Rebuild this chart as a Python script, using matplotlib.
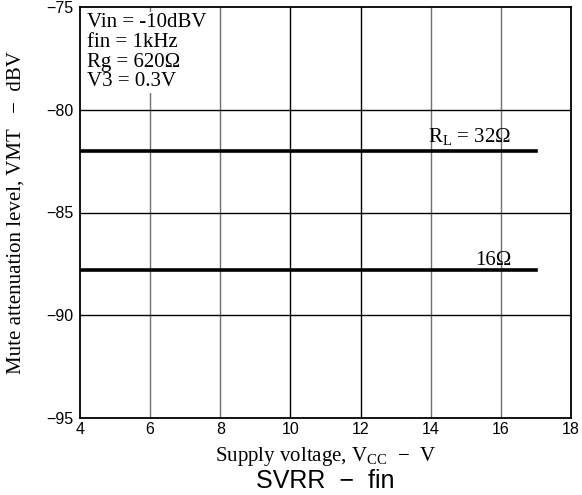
import numpy as np
import matplotlib.pyplot as plt

# supply voltage range and mute level for each load
vcc = [4, 17]
vmt_32 = [-82.0, -82.0]
vmt_16 = [-87.8, -87.8]
x_ticks = [4, 6, 8, 10, 12, 14, 16, 18]
y_ticks = [-95, -90, -85, -80, -75]

serif = 'Liberation Serif'
sans = 'Liberation Sans'

fig = plt.figure(figsize=(5.82, 4.95), dpi=100)
ax = fig.add_axes([80 / 582, 1 - 418 / 495, 491 / 582, 411 / 495])

ax.set_xlim(4, 18)
ax.set_ylim(-95, -75)
ax.set_xticks(x_ticks)
ax.set_yticks(y_ticks)
ax.set_yticklabels(['\u221295', '\u221290', '\u221285', '\u221280', '\u221275'])
ax.tick_params(length=0, labelsize=11.5)
ax.tick_params(axis='y', pad=5)
ax.tick_params(axis='x', pad=3)
for lab in ax.get_xticklabels() + ax.get_yticklabels():
    lab.set_family(sans)

# grid: some lines black, some gray as in the original
for xv in [6, 8, 14, 16]:
    ax.axvline(xv, color='#707070', lw=1.0, zorder=1)
for xv in [10, 12]:
    ax.axvline(xv, color='black', lw=1.0, zorder=1)
for yv in [-90, -85, -80]:
    ax.axhline(yv, color='black', lw=1.0, zorder=1)

for s in ax.spines.values():
    s.set_linewidth(1.3)

ax.plot(vcc, vmt_32, color='black', lw=2.6, zorder=3)
ax.plot(vcc, vmt_16, color='black', lw=2.6, zorder=3)

ax.text(16.3, -81.6, 'R$_\\mathregular{L}$ = 32\u03a9', ha='right', va='baseline',
        fontsize=15, family=serif)
ax.text(16.3, -87.55, '16\u03a9', ha='right', va='baseline',
        fontsize=15, family=serif)

ax.text(4.2, -75.3, 'Vin = -10dBV\nfin = 1kHz\nRg = 620\u03a9\nV3 = 0.3V',
        ha='left', va='top', fontsize=15, family=serif, linespacing=1.05,
        bbox=dict(fc='white', ec='none', pad=1), zorder=4)

ax.set_xlabel('Supply voltage, V$_\\mathregular{CC}$  \u2212  V', family=serif,
              fontsize=15)
ax.xaxis.set_label_coords(0.5, -(456 - 418) / 411)
ax.xaxis.label.set_va('center')
ax.set_ylabel('Mute attenuation level, VMT   \u2212  dBV', family=serif,
              fontsize=15)
ax.yaxis.set_label_coords(-(80 - 16) / 491, 0.5)
ax.yaxis.label.set_va('center')

# caption under the chart
fig.text(325 / 582, 1 - 481 / 495, 'SVRR  \u2212  fin', ha='center', va='center',
         family=sans, fontsize=18)

fig.savefig('out.png', dpi=100)
